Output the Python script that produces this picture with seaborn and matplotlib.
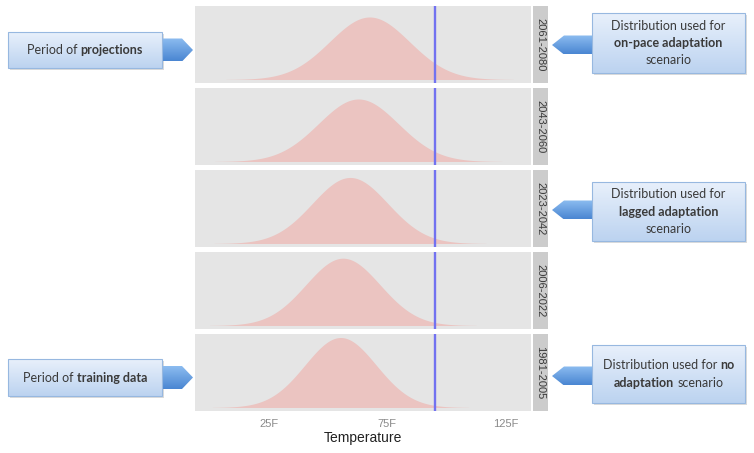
import numpy as np
import pandas as pd
import matplotlib
matplotlib.use("Agg")
import matplotlib.pyplot as plt
import seaborn as sns
from matplotlib.patches import Rectangle, Polygon
from matplotlib.colors import LinearSegmentedColormap

# facet rows, top to bottom
periods = ["2061-2080", "2043-2060", "2023-2042", "2006-2022", "1981-2005"]
# estimated centre / spread of each temperature distribution (deg F)
mean_temp = [67.5, 62.8, 59.3, 56.3, 55.3]
sd_temp = [16.8, 16.8, 15.9, 15.6, 15.0]
threshold_temp = 95
x_ticks = [25, 75, 125]
x_tick_labels = ["25F", "75F", "125F"]

W, H = 754, 453
FILL = "#EBC4C1"
PANEL_BG = "#E5E5E5"
STRIP_BG = "#CCCCCC"
TXT = "#3A3A3A"
BOX_FONT = ["Lato", "DejaVu Sans"]
AX_FONT = ["Liberation Sans", "DejaVu Sans"]
BOX_FS = 9

sns.set_style("white")
plt.rcParams["font.family"] = AX_FONT

# long table of density curves
rows = []
for p, m, s in zip(periods, mean_temp, sd_temp):
    grid = np.linspace(m - 3.6 * s, m + 3.6 * s, 300)
    dens = np.exp(-0.5 * ((grid - m) / s) ** 2) / (s * np.sqrt(2 * np.pi))
    rows.append(pd.DataFrame({"period": p, "temperature": grid, "density": dens}))
df = pd.concat(rows, ignore_index=True)
ymax = df["density"].max()

fig = plt.figure(figsize=(W / 100, H / 100), dpi=100)


def fig_rect(x0, y0, x1, y1):
    return [x0 / W, 1 - y1 / H, (x1 - x0) / W, (y1 - y0) / H]


panel_top, panel_h, gap = 6, 77, 5
px_left, px_right = 195, 531
for i, p in enumerate(periods):
    y0 = panel_top + i * (panel_h + gap)
    y1 = y0 + panel_h
    ax = fig.add_axes(fig_rect(px_left, y0, px_right, y1))
    sub = df[df["period"] == p]
    ax.set_facecolor(PANEL_BG)
    sns.lineplot(data=sub, x="temperature", y="density", ax=ax, color=FILL, lw=0)
    ax.fill_between(sub["temperature"], 0, sub["density"], color=FILL, lw=0)
    ax.axvline(threshold_temp, color="#7272F0", lw=1.7)
    ax.set_xlim(-6, 135.5)
    ax.set_ylim(-0.05 * ymax, 1.05 * ymax)
    ax.set_ylabel("")
    ax.set_yticks([])
    for sp in ax.spines.values():
        sp.set_visible(False)
    if i == len(periods) - 1:
        ax.set_xticks(x_ticks)
        ax.set_xticklabels(x_tick_labels)
        ax.tick_params(axis="x", length=3, width=0.8, color="#8A8A8A",
                       labelcolor="#8A8A8A", labelsize=8, pad=3)
        ax.set_xlabel("Temperature", fontsize=10, color="#222222", labelpad=1)
    else:
        ax.set_xticks([])
        ax.set_xlabel("")
    # facet strip
    sax = fig.add_axes(fig_rect(533, y0, 548, y1))
    sax.set_facecolor(STRIP_BG)
    sax.set_xticks([])
    sax.set_yticks([])
    for sp in sax.spines.values():
        sp.set_visible(False)
    sax.text(0.5, 0.5, p, rotation=270, ha="center", va="center",
             fontsize=8, color="#3A3A3A", transform=sax.transAxes)

# overlay in pixel coordinates for the callouts
ov = fig.add_axes([0, 0, 1, 1], zorder=10)
ov.set_xlim(0, W)
ov.set_ylim(H, 0)
ov.axis("off")
ov.patch.set_alpha(0)

box_cmap = LinearSegmentedColormap.from_list("box", ["#E8F0FB", "#BCD3F0"])
arr_cmap = LinearSegmentedColormap.from_list("arr", ["#8CBCF0", "#4A86D2"])
grad = np.linspace(0, 1, 64).reshape(-1, 1)


def grad_patch(patch, cmap, x0, y0, x1, y1):
    ov.add_patch(patch)
    im = ov.imshow(grad, cmap=cmap, extent=(x0, x1, y1, y0), aspect="auto",
                   origin="upper", interpolation="bilinear", zorder=patch.get_zorder())
    im.set_clip_path(patch)


def draw_box(x0, y0, x1, y1):
    ov.add_patch(Rectangle((x0 + 2, y0 + 2), x1 - x0, y1 - y0, color="#9A9A9A",
                           alpha=0.35, lw=0, zorder=2))
    r = Rectangle((x0, y0), x1 - x0, y1 - y0, facecolor="none", edgecolor="none", zorder=3)
    grad_patch(r, box_cmap, x0, y0, x1, y1)
    ov.add_patch(Rectangle((x0, y0), x1 - x0, y1 - y0, facecolor="none",
                           edgecolor="#97B8E0", lw=0.8, zorder=4))


def draw_arrow(pts):
    xs = [q[0] for q in pts]
    ys = [q[1] for q in pts]
    poly = Polygon(pts, closed=True, facecolor="none", edgecolor="none", zorder=2.5)
    grad_patch(poly, arr_cmap, min(xs), min(ys), max(xs), max(ys))


renderer = fig.canvas.get_renderer()


def text_w(s, weight):
    t = ov.text(0, 0, s, fontsize=BOX_FS, fontweight=weight, family=BOX_FONT)
    w = t.get_window_extent(renderer=renderer).width
    t.remove()
    return w


space_w = text_w("a a", "normal") - text_w("aa", "normal")


def rich_line(cx, cy, parts):
    # one text per run of equal weight, runs placed side by side
    widths = [text_w(s, wt) for s, wt in parts]
    total = sum(widths) + space_w * (len(parts) - 1)
    x = cx - total / 2
    for (s, wt), w in zip(parts, widths):
        ov.text(x, cy, s, fontsize=BOX_FS, fontweight=wt, family=BOX_FONT,
                color=TXT, ha="left", va="center", zorder=6)
        x += w + space_w


# left callouts
for (y0, y1), parts in [((32, 68), [("Period of", "normal"), ("projections", "bold")]),
                        ((359, 396), [("Period of", "normal"), ("training data", "bold")])]:
    cy = (y0 + y1) / 2
    draw_arrow([(160, cy - 11.5), (182, cy - 11.5), (193, cy), (182, cy + 11.5), (160, cy + 11.5)])
    draw_box(8, y0, 162, y1)
    rich_line(85, cy, parts)

# right callouts
right = [
    ((13, 73), 45, [[("Distribution used for", "normal")],
                    [("on-pace adaptation", "bold")],
                    [("scenario", "normal")]]),
    ((182, 241), 210, [[("Distribution used for", "normal")],
                       [("lagged adaptation", "bold")],
                       [("scenario", "normal")]]),
    ((345, 403), 376, [[("Distribution used for", "normal"), ("no", "bold")],
                       [("adaptation", "bold"), ("scenario", "normal")]]),
]
for (y0, y1), ay, lines in right:
    draw_arrow([(595, ay - 9.5), (564, ay - 9.5), (552, ay), (564, ay + 9.5), (595, ay + 9.5)])
    draw_box(592, y0, 745, y1)
    cy = (y0 + y1) / 2
    n = len(lines)
    for k, parts in enumerate(lines):
        rich_line(668.5, cy + (k - (n - 1) / 2) * 17.5, parts)

fig.savefig("out.png", dpi=100)
